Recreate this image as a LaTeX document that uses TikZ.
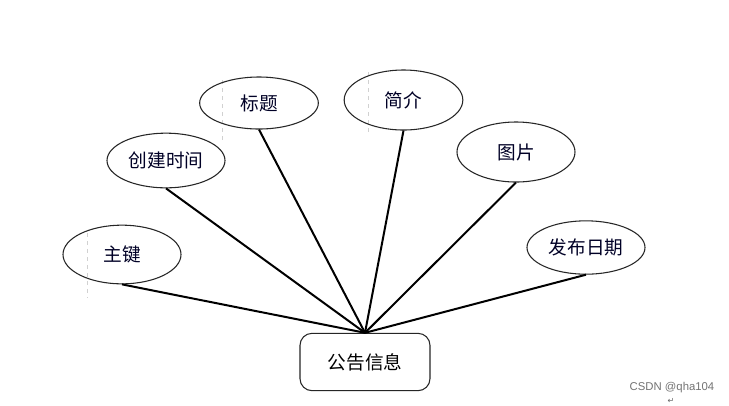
\documentclass[tikz,border=0pt]{standalone}
\usepackage{fontspec}
\setmainfont{Liberation Sans}
\newfontfamily\cjk{Noto Sans CJK SC}
\newfontfamily\symfont{DejaVu Sans}
\usetikzlibrary{shapes.geometric}
\begin{document}
\begin{tikzpicture}[x=0.75pt,y=-0.75pt,
  attr/.style={ellipse,draw=black!85,line width=0.8pt,inner sep=0pt,
    font=\cjk\fontsize{14}{16}\selectfont,text=black!85!blue},
  ent/.style={rectangle,rounded corners=9pt,draw=black!85,line width=0.8pt,
    minimum width=97.5pt,minimum height=43pt,inner sep=0pt,
    font=\cjk\fontsize{14}{16}\selectfont},
  link/.style={line width=1.5pt,black},
  guide/.style={black!18,dashed,line width=0.4pt}]
\useasboundingbox (0,0) rectangle (729,405);
\fill[white] (0,0) rectangle (729,405);
% faint guide marks
\draw[guide] (87,233) -- (87,298);
\draw[guide] (222,80) -- (222,140);
\draw[guide] (368,72) -- (368,135);
% entity
\node[ent] (box) at (365,362) {公告信息};
% attributes
\node[attr,minimum width=88.5pt,minimum height=44pt] (zj) at (122,254.5) {主键};
\node[attr,minimum width=88.5pt,minimum height=41pt] (cj) at (166,160.5) {创建时间};
\node[attr,minimum width=89pt,minimum height=39pt] (bt) at (259,103) {标题};
\node[attr,minimum width=89pt,minimum height=45pt] (jj) at (403.5,100) {简介};
\node[attr,minimum width=88.5pt,minimum height=45pt] (tp) at (516,152) {图片};
\node[attr,minimum width=88.5pt,minimum height=40pt] (fb) at (586,247.5) {发布日期};
% connectors
\foreach \n in {zj,cj,bt,jj,tp,fb}
  \draw[link] (\n.south) -- (box.north);
% watermark
\node[text=black!55,font=\fontsize{8.5}{10}\selectfont,inner sep=0pt] (wm) at (672,388) {CSDN @qha104};
\node[text=black!60,font=\symfont\fontsize{6}{7}\selectfont,inner sep=0pt] (rt) at (671,401) {↵};
\end{tikzpicture}
\end{document}
